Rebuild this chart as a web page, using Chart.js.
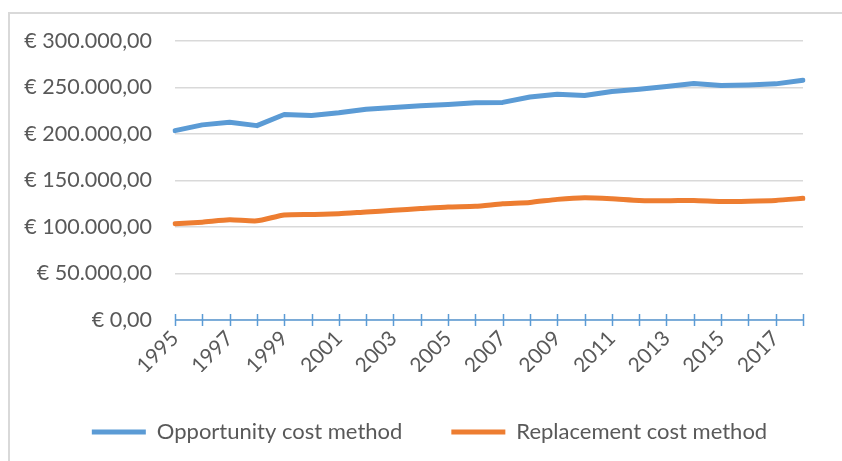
<!DOCTYPE html>
<html>
<head>
<meta charset="utf-8">
<script src="https://cdn.jsdelivr.net/npm/chart.js@4/dist/chart.umd.min.js"></script>
<style>
  html, body { margin: 0; padding: 0; background: #ffffff; }
  #wrap { position: relative; width: 842px; height: 461px; }
</style>
</head>
<body>
<div id="wrap"><canvas id="chart" width="842" height="461"></canvas></div>
<script>
// Years on the category axis
const years = [
  '1995','1996','1997','1998','1999','2000','2001','2002','2003','2004','2005','2006',
  '2007','2008','2009','2010','2011','2012','2013','2014','2015','2016','2017','2018'
];

// Value per year, opportunity cost method (EUR)
const opportunityCost = [
  203600, 209800, 212600, 209000, 221000, 219900, 222800, 226700, 228600, 230400, 231800, 233700,
  234000, 239800, 242700, 241300, 245700, 248200, 251100, 254300, 252200, 252800, 253900, 257900
];

// Value per year, replacement cost method (EUR)
const replacementCost = [
  103600, 105200, 107700, 106600, 112900, 113500, 114300, 116200, 117900, 119800, 121600, 122300,
  124900, 126400, 129700, 131500, 130400, 128600, 128200, 128600, 127500, 127800, 128600, 130800
];

// Value axis ticks
const yTicks = [0, 50000, 100000, 150000, 200000, 250000, 300000];

const seriesNames = ['Opportunity cost method', 'Replacement cost method'];
const BLUE = '#5B9BD5';
const ORANGE = '#ED7D31';
const TEXT = '#595959';
const FONT = 'Lato, "Open Sans", sans-serif';

// Euro formatting with dot thousands separator and comma decimals
function euro(v) {
  const s = Math.round(v).toString().replace(/\B(?=(\d{3})+(?!\d))/g, '.');
  return '\u20AC ' + s + ',00';
}

// Light frame around the chart
const framePlugin = {
  id: 'frame',
  beforeDraw(chart) {
    const ctx = chart.ctx;
    ctx.save();
    ctx.strokeStyle = '#D9D9D9';
    ctx.lineWidth = 2;
    ctx.beginPath();
    ctx.moveTo(9, chart.height);
    ctx.lineTo(9, 13);
    ctx.lineTo(chart.width, 13);
    ctx.stroke();
    ctx.restore();
  }
};

// Legend sits centred under the whole frame rather than under the plot
const legendShift = {
  id: 'legendShift',
  afterLayout(chart) {
    const lg = chart.legend;
    if (lg) { lg.left += 28; lg.right += 28; }
  }
};

// Cross tick marks on the category axis
const crossTicks = {
  id: 'crossTicks',
  afterDatasetsDraw(chart) {
    const x = chart.scales.x;
    const y0 = chart.scales.y.getPixelForValue(0);
    const ctx = chart.ctx;
    ctx.save();
    ctx.strokeStyle = BLUE;
    ctx.lineWidth = 1.5;
    ctx.beginPath();
    ctx.moveTo(x.left, y0);
    ctx.lineTo(x.right, y0);
    for (let i = 0; i < years.length; i++) {
      const px = Math.round(x.getPixelForTick(i)) + 0.5;
      ctx.moveTo(px, y0 - 6);
      ctx.lineTo(px, y0 + 6);
    }
    ctx.stroke();
    ctx.restore();
  }
};

new Chart(document.getElementById('chart'), {
  type: 'line',
  data: {
    labels: years,
    datasets: [
      {
        label: seriesNames[0],
        data: opportunityCost,
        borderColor: BLUE,
        backgroundColor: BLUE,
        borderWidth: 5,
        borderCapStyle: 'round',
        borderJoinStyle: 'round',
        pointRadius: 0,
        pointStyle: 'line',
        tension: 0
      },
      {
        label: seriesNames[1],
        data: replacementCost,
        borderColor: ORANGE,
        backgroundColor: ORANGE,
        borderWidth: 5,
        borderCapStyle: 'round',
        borderJoinStyle: 'round',
        pointRadius: 0,
        pointStyle: 'line',
        tension: 0.2
      }
    ]
  },
  options: {
    responsive: false,
    animation: false,
    layout: { padding: { top: 41, right: 39, bottom: 8, left: 0 } },
    plugins: {
      tooltip: { enabled: false },
      legend: {
        position: 'bottom',
        labels: {
          usePointStyle: true,
          pointStyleWidth: 54,
          padding: 49,
          color: TEXT,
          font: { family: FONT, size: 22 }
        }
      }
    },
    scales: {
      x: {
        offset: false,
        border: { display: false },
        grid: { display: false, drawTicks: false },
        ticks: {
          autoSkip: false,
          maxRotation: 45,
          minRotation: 45,
          padding: 6,
          color: TEXT,
          font: { family: FONT, size: 21 },
          callback(value, index) {
            return index % 2 === 0 ? this.getLabelForValue(value) : '';
          }
        },
        afterFit(scale) { scale.height = 52; }
      },
      y: {
        min: 0,
        max: 300000,
        border: { display: false },
        grid: { color: '#D9D9D9', lineWidth: 1.5, drawTicks: false },
        afterBuildTicks(scale) {
          scale.ticks = yTicks.map(v => ({ value: v }));
        },
        ticks: {
          padding: 23,
          color: TEXT,
          font: { family: FONT, size: 21.5 },
          callback(v) { return euro(v); }
        },
        afterFit(scale) { scale.width = 175; }
      }
    }
  },
  plugins: [framePlugin, legendShift, crossTicks]
});
</script>
</body>
</html>
